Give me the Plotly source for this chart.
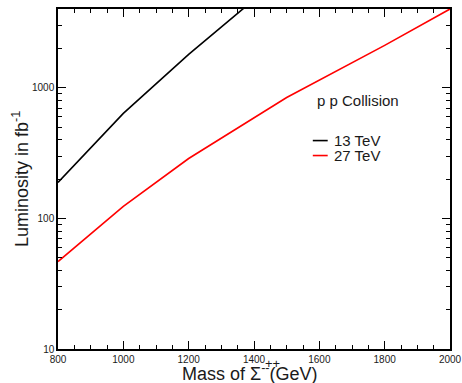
import plotly.graph_objects as go

mass_13 = [800, 1000, 1200, 1400]
lumi_13 = [189, 638, 1810, 4750]
mass_27 = [800, 1000, 1200, 1500, 1800, 2000]
lumi_27 = [46.8, 124, 288, 845, 2120, 4030]
series_names = ["13 TeV", "27 TeV"]
series_colors = ["black", "#ff0000"]

FONT = "Liberation Sans, Arial, sans-serif"
NARROW = "Liberation Sans Narrow, Arial Narrow, Liberation Sans, sans-serif"
TXT = "#1a1a1a"

fig = go.Figure()
fig.add_trace(go.Scatter(x=mass_13, y=lumi_13, mode="lines", name=series_names[0],
                         line=dict(color=series_colors[0], width=1.6), showlegend=False))
fig.add_trace(go.Scatter(x=mass_27, y=lumi_27, mode="lines", name=series_names[1],
                         line=dict(color=series_colors[1], width=1.6), showlegend=False))

axis_common = dict(showline=True, linecolor="black", linewidth=1.5, mirror="allticks",
                   ticks="inside", tickcolor="black", showgrid=False, zeroline=False,
                   automargin=False,
                   tickfont=dict(family=NARROW, size=10, color=TXT))

fig.update_xaxes(range=[800, 2000], dtick=200, ticklen=8, tickwidth=1,
                 minor=dict(dtick=50, ticks="inside", ticklen=4, tickcolor="black", showgrid=False),
                 **axis_common)
fig.update_yaxes(type="log", range=[1, 3.605], tickvals=[10, 100, 1000], ticklen=8, tickwidth=1,
                 minor=dict(ticks="inside", ticklen=4, tickcolor="black", showgrid=False,
                            tickvals=[v * m for m in (1, 10, 100, 1000) for v in range(2, 10)]),
                 **axis_common)

# axis titles
fig.add_annotation(x=0.49, y=0, xref="paper", yref="paper", yshift=-10, yanchor="top",
                   text="Mass of Σ<sup>--</sup>(GeV)", showarrow=False,
                   font=dict(family=FONT, size=18, color=TXT))
fig.add_annotation(x=1400, y=0, xref="x", yref="paper", xshift=9, yshift=-14, yanchor="middle",
                   xanchor="left", text="++", showarrow=False,
                   font=dict(family=FONT, size=13, color=TXT))
fig.add_annotation(x=0, y=0.5, xref="paper", yref="paper", xshift=-38, textangle=-90,
                   xanchor="center", yanchor="middle",
                   text="Luminosity in fb<sup>-1</sup>", showarrow=False,
                   font=dict(family=FONT, size=18, color=TXT))

# legend
fig.add_annotation(x=0.655, y=0.73, xref="paper", yref="paper", text="p p Collision", showarrow=False,
                   xanchor="left", yanchor="middle", font=dict(family=FONT, size=15, color=TXT))
legend_y = [0.613, 0.569]
for name, color, ly in zip(series_names, series_colors, legend_y):
    fig.add_shape(type="line", xref="paper", yref="paper", x0=0.650, x1=0.688, y0=ly, y1=ly,
                  line=dict(color=color, width=1.6))
    fig.add_annotation(x=0.700, y=ly, xref="paper", yref="paper", text=name, showarrow=False,
                       xanchor="left", yanchor="middle", font=dict(family=FONT, size=15, color=TXT))

fig.update_layout(
    width=462, height=383,
    margin=dict(l=58, r=12, t=9, b=34, autoexpand=False),
    paper_bgcolor="white", plot_bgcolor="white",
    showlegend=False,
)

fig.write_html("out.html", config={"displayModeBar": False},
               post_script="document.body.style.margin='0';document.body.style.overflow='hidden';")
